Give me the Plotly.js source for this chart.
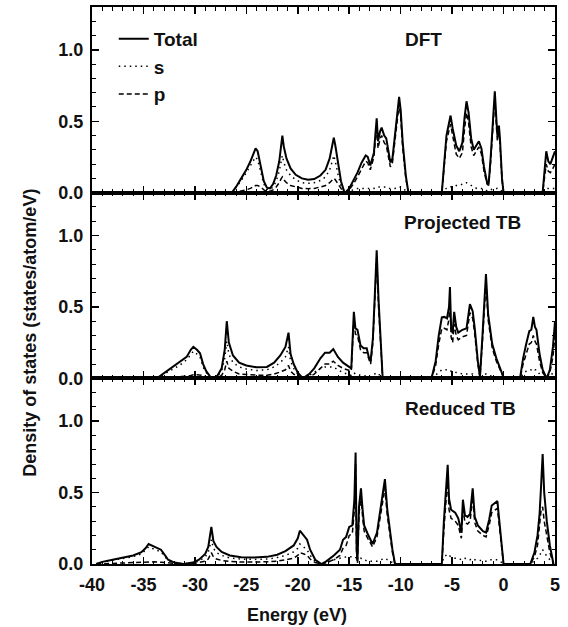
<!DOCTYPE html>
<html>
<head>
<meta charset="utf-8">
<script src="https://cdn.plot.ly/plotly-3.0.1.min.js"></script>
<style>html,body{margin:0;padding:0;background:#fff;}#chart{width:568px;height:627px;}</style>
</head>
<body>
<div id="chart"></div>
<script>
// ---------- DFT panel ----------
const dftE = [-26.4,-26.0,-25.5,-25.0,-24.6,-24.3,-24.1,-23.9,-23.6,-23.3,-23.0,-22.7,-22.4,-22.1,-21.8,-21.6,-21.5,-21.35,-21.1,-20.7,-20.2,-19.6,-19.0,-18.4,-17.8,-17.3,-16.9,-16.65,-16.5,-16.35,-16.1,-15.8,-15.5,
  -15.4,-15.0,-14.6,-14.2,-13.8,-13.4,-13.2,-12.95,-12.6,-12.4,-12.33,-12.2,-12.0,-11.85,-11.6,-11.4,-11.2,-11.0,-10.8,-10.55,-10.3,-10.15,-10.0,-9.8,-9.5,-9.25,
  -6.0,-5.8,-5.55,-5.35,-5.15,-4.95,-4.6,-4.3,-4.0,-3.8,-3.6,-3.4,-3.15,-2.9,-2.6,-2.4,-2.15,-1.9,-1.6,-1.45,-1.25,-1.0,-0.85,-0.7,-0.6,-0.45,-0.35,-0.15,0.0,
  3.8,3.95,4.15,4.35,4.55,4.8,5.0];
const dftTotal = [0,0.04,0.10,0.16,0.22,0.28,0.31,0.29,0.18,0.08,0.035,0.03,0.06,0.12,0.22,0.35,0.40,0.32,0.24,0.17,0.125,0.10,0.09,0.095,0.12,0.16,0.24,0.33,0.385,0.33,0.20,0.08,0.01,
  0,0.03,0.08,0.14,0.21,0.26,0.25,0.19,0.28,0.45,0.52,0.36,0.43,0.455,0.40,0.38,0.30,0.21,0.24,0.40,0.60,0.67,0.58,0.35,0.12,0,
  0,0.20,0.40,0.47,0.54,0.45,0.33,0.29,0.35,0.52,0.64,0.56,0.38,0.30,0.34,0.36,0.31,0.18,0.07,0.06,0.25,0.55,0.71,0.52,0.40,0.47,0.38,0.10,0,
  0,0.15,0.29,0.22,0.20,0.25,0.29];
const dftS = [0,0.035,0.085,0.14,0.19,0.23,0.25,0.23,0.14,0.06,0.025,0.02,0.04,0.08,0.15,0.24,0.26,0.21,0.16,0.12,0.09,0.07,0.065,0.07,0.085,0.11,0.16,0.22,0.26,0.22,0.13,0.05,0.005,
  0,0.01,0.02,0.03,0.03,0.03,0.03,0.03,0.03,0.04,0.04,0.04,0.04,0.04,0.04,0.04,0.03,0.03,0.03,0.03,0.04,0.04,0.04,0.03,0.01,0,
  0,0.02,0.03,0.03,0.04,0.04,0.05,0.05,0.06,0.07,0.07,0.06,0.05,0.04,0.03,0.03,0.03,0.02,0.01,0.01,0.02,0.03,0.03,0.03,0.03,0.02,0.02,0.01,0,
  0,0.02,0.03,0.03,0.03,0.03,0.03];
const dftP = [0,0.005,0.012,0.02,0.03,0.04,0.05,0.05,0.04,0.02,0.01,0.01,0.02,0.04,0.07,0.10,0.11,0.09,0.07,0.05,0.04,0.03,0.028,0.03,0.04,0.05,0.07,0.09,0.10,0.09,0.06,0.03,0.005,
  0,0.02,0.06,0.11,0.17,0.22,0.21,0.16,0.25,0.40,0.47,0.31,0.38,0.40,0.35,0.33,0.26,0.18,0.21,0.36,0.55,0.62,0.53,0.31,0.10,0,
  0,0.17,0.36,0.42,0.48,0.40,0.27,0.24,0.28,0.44,0.56,0.49,0.32,0.26,0.30,0.32,0.27,0.15,0.06,0.05,0.22,0.50,0.66,0.47,0.36,0.43,0.34,0.09,0,
  0,0.10,0.20,0.15,0.14,0.17,0.20];

// ---------- Projected TB panel ----------
const ptbE = [-33.7,-32.5,-31.5,-30.8,-30.4,-30.15,-29.8,-29.5,-29.2,-28.9,-28.5,-28.2,-27.8,-27.4,-27.1,-26.9,-26.7,-26.3,-25.7,-25.0,-24.0,-23.0,-22.3,-21.7,-21.2,-20.9,-20.7,-20.4,-20.0,-19.5,
  -18.9,-18.4,-17.8,-17.35,-16.9,-16.55,-16.1,-15.6,-14.8,-14.55,-14.4,-14.2,-13.9,-13.6,-13.3,-13.1,-12.92,-12.7,-12.5,-12.33,-12.15,-12.0,-11.75,
  -7.0,-6.6,-6.3,-6.0,-5.75,-5.5,-5.3,-5.21,-5.1,-4.95,-4.8,-4.6,-4.4,-4.0,-3.6,-3.4,-3.27,-3.0,-2.8,-2.5,-2.29,-2.05,-1.85,-1.71,-1.5,-1.1,-0.7,-0.3,0.04,
  1.6,1.9,2.2,2.5,2.7,2.89,3.05,3.2,3.5,3.8,4.19,4.5,4.8,5.0];
const ptbTotal = [0,0.06,0.11,0.15,0.20,0.22,0.20,0.175,0.10,0.05,0.01,0,0.02,0.07,0.20,0.40,0.25,0.16,0.11,0.09,0.077,0.08,0.11,0.16,0.22,0.32,0.17,0.10,0.04,0,
  0.03,0.07,0.14,0.18,0.18,0.205,0.15,0.11,0.07,0.466,0.35,0.34,0.23,0.21,0.21,0.15,0.12,0.28,0.60,0.897,0.55,0.31,0,
  0,0.12,0.30,0.427,0.43,0.42,0.50,0.64,0.36,0.315,0.466,0.36,0.32,0.34,0.35,0.44,0.52,0.47,0.35,0.12,0.01,0.30,0.60,0.73,0.45,0.24,0.14,0.06,0,
  0,0.14,0.24,0.33,0.34,0.43,0.36,0.34,0.17,0.06,0,0.06,0.22,0.40];
const ptbS = [0,0.05,0.09,0.13,0.17,0.19,0.17,0.15,0.08,0.04,0.008,0,0.015,0.05,0.14,0.26,0.17,0.11,0.08,0.065,0.055,0.06,0.08,0.11,0.15,0.22,0.12,0.07,0.03,0,
  0.02,0.04,0.07,0.08,0.08,0.08,0.06,0.04,0.02,0.04,0.03,0.03,0.02,0.02,0.02,0.015,0.01,0.02,0.03,0.04,0.03,0.02,0,
  0,0.02,0.04,0.06,0.06,0.06,0.06,0.06,0.05,0.05,0.05,0.04,0.04,0.03,0.03,0.03,0.03,0.03,0.02,0.01,0,0.02,0.03,0.03,0.02,0.015,0.01,0.005,0,
  0,0.03,0.05,0.06,0.06,0.07,0.06,0.06,0.03,0.01,0,0.01,0.04,0.06];
const ptbP = [0,0.005,0.01,0.015,0.02,0.025,0.025,0.025,0.02,0.01,0.002,0,0.005,0.02,0.06,0.12,0.07,0.05,0.03,0.025,0.022,0.022,0.03,0.045,0.06,0.09,0.05,0.03,0.01,0,
  0.01,0.03,0.07,0.10,0.10,0.12,0.09,0.07,0.05,0.42,0.31,0.30,0.20,0.18,0.18,0.13,0.10,0.25,0.55,0.84,0.50,0.28,0,
  0,0.09,0.24,0.35,0.35,0.34,0.42,0.56,0.29,0.25,0.38,0.30,0.27,0.29,0.30,0.38,0.46,0.42,0.31,0.10,0.01,0.26,0.54,0.67,0.41,0.21,0.12,0.05,0,
  0,0.10,0.17,0.24,0.25,0.30,0.26,0.24,0.12,0.04,0,0.04,0.15,0.30];

// ---------- Reduced TB panel ----------
const rtbE = [-39.6,-39.0,-38.0,-37.0,-36.0,-35.2,-34.8,-34.5,-34.0,-33.3,-32.9,-32.6,-32.0,-31.1,-30.2,-29.6,-29.0,-28.7,-28.4,-28.2,-27.9,-27.4,-26.6,-25.5,-24.3,-23.0,-22.0,-21.2,-20.4,-20.0,-19.8,-19.4,-19.1,-18.8,-18.3,-17.7,
  -17.2,-16.5,-15.9,-15.6,-15.3,-15.0,-14.7,-14.5,-14.38,-14.28,-14.2,-14.05,-13.86,-13.7,-13.55,-13.2,-12.73,-12.3,-11.9,-11.53,-11.3,-11.0,-10.8,-10.55,
  -6.0,-5.8,-5.6,-5.43,-5.3,-5.1,-4.7,-4.4,-4.1,-3.95,-3.75,-3.5,-3.25,-3.0,-2.8,-2.5,-2.0,-1.7,-1.4,-1.15,-0.6,-0.35,-0.1,0.0,
  2.6,3.0,3.3,3.5,3.65,3.8,3.95,4.2,4.5,4.85];
const rtbTotal = [0,0.015,0.03,0.045,0.06,0.083,0.11,0.14,0.125,0.10,0.06,0.03,0.01,0,0.01,0.03,0.07,0.12,0.26,0.16,0.12,0.085,0.06,0.048,0.045,0.05,0.065,0.09,0.13,0.18,0.233,0.20,0.17,0.10,0.03,0,
  0.02,0.06,0.10,0.17,0.19,0.26,0.27,0.45,0.78,0.10,0.02,0.40,0.53,0.38,0.27,0.21,0.14,0.22,0.42,0.595,0.38,0.21,0.10,0,
  0,0.30,0.50,0.695,0.46,0.38,0.36,0.32,0.22,0.45,0.34,0.33,0.35,0.53,0.33,0.27,0.23,0.22,0.31,0.41,0.44,0.25,0.05,0,
  0,0.08,0.20,0.35,0.55,0.77,0.50,0.30,0.13,0];
const rtbS = [0,0.013,0.026,0.04,0.052,0.07,0.095,0.12,0.105,0.085,0.05,0.025,0.008,0,0.008,0.02,0.05,0.08,0.17,0.11,0.08,0.06,0.042,0.034,0.032,0.035,0.045,0.06,0.085,0.11,0.14,0.12,0.10,0.06,0.02,0,
  0.01,0.03,0.04,0.05,0.05,0.05,0.05,0.05,0.05,0.03,0.01,0.03,0.04,0.03,0.03,0.02,0.02,0.02,0.03,0.04,0.03,0.02,0.01,0,
  0,0.05,0.06,0.07,0.06,0.05,0.04,0.04,0.03,0.04,0.04,0.03,0.03,0.04,0.03,0.03,0.02,0.02,0.03,0.03,0.03,0.02,0.005,0,
  0,0.02,0.04,0.06,0.08,0.10,0.08,0.06,0.03,0];
const rtbP = [0,0.002,0.004,0.005,0.008,0.01,0.012,0.015,0.015,0.012,0.01,0.005,0.002,0,0.002,0.01,0.02,0.035,0.08,0.05,0.035,0.025,0.018,0.014,0.013,0.015,0.02,0.028,0.04,0.06,0.08,0.07,0.06,0.035,0.01,0,
  0.01,0.03,0.06,0.11,0.13,0.20,0.21,0.38,0.70,0.07,0.01,0.35,0.47,0.33,0.23,0.18,0.12,0.19,0.37,0.53,0.34,0.18,0.08,0,
  0,0.24,0.42,0.60,0.38,0.32,0.30,0.27,0.18,0.39,0.29,0.28,0.30,0.47,0.29,0.23,0.20,0.19,0.27,0.36,0.39,0.22,0.04,0,
  0,0.05,0.13,0.25,0.38,0.40,0.30,0.20,0.08,0];

const legendNames = ['Total', 's', 'p'];
const panelLabels = ['DFT', 'Projected TB', 'Reduced TB'];
const yTickVals = [0, 0.5, 1.0];
const yTickText = ['0.0', '0.5', '1.0'];
const xTickVals = [-40, -35, -30, -25, -20, -15, -10, -5, 0, 5];
const xTickText = ['-40', '-35', '-30', '-25', '-20', '-15', '-10', '-5', '0', '5'];

const FONT = 'Liberation Sans, Arial, Helvetica, sans-serif';
const panels = [
  {E: dftE, T: dftTotal, S: dftS, P: dftP},
  {E: ptbE, T: ptbTotal, S: ptbS, P: ptbP},
  {E: rtbE, T: rtbTotal, S: rtbS, P: rtbP}
];
const styles = [
  {dash: 'solid', width: 2},
  {dash: '1.5px,4px', width: 1.5},
  {dash: '5px,3px', width: 1.5}
];

const traces = [];
panels.forEach((pn, i) => {
  const xa = i === 0 ? 'x' : 'x' + (i + 1);
  const ya = i === 0 ? 'y' : 'y' + (i + 1);
  [pn.T, pn.S, pn.P].forEach((vals, j) => {
    traces.push({
      x: pn.E, y: vals, xaxis: xa, yaxis: ya,
      type: 'scatter', mode: 'lines',
      name: legendNames[j],
      legendgroup: 'g' + j,
      showlegend: i === 0,
      line: {color: '#000', dash: styles[j].dash, width: styles[j].width},
      hoverinfo: 'skip'
    });
  });
});

const tickFont = {family: FONT, size: 18, color: '#111', weight: 'bold'};
function yAxis(domain, anchor) {
  return {
    domain: domain, anchor: anchor, range: [0, 1.3],
    tickvals: yTickVals, ticktext: yTickText,
    ticks: 'inside', ticklen: 7, tickwidth: 1.5, tickcolor: '#000',
    minor: {dtick: 0.1, tick0: 0, ticks: 'inside', ticklen: 3.5, tickwidth: 1, tickcolor: '#000'},
    showline: true, linewidth: 2, linecolor: '#000', mirror: 'ticks',
    showgrid: false, zeroline: false, tickfont: tickFont, ticklabelstandoff: 3, fixedrange: true
  };
}
function xAxis(anchor, showLabels) {
  return {
    anchor: anchor, range: [-40, 5], domain: [0, 1],
    tickvals: xTickVals, ticktext: xTickText,
    ticks: 'inside', ticklen: 7, tickwidth: 1.5, tickcolor: '#000',
    minor: {dtick: 1, tick0: 0, ticks: 'inside', ticklen: 3.5, tickwidth: 1, tickcolor: '#000'},
    showline: true, linewidth: 2, linecolor: '#000', mirror: 'ticks',
    showgrid: false, zeroline: false, showticklabels: showLabels,
    tickfont: tickFont, ticklabelstandoff: 3, fixedrange: true
  };
}

const labelFont = {family: FONT, size: 19, color: '#111', weight: 'bold'};
const annotations = [
  {text: panelLabels[0], xref: 'x', yref: 'y', x: -9.8, y: 1.075, xanchor: 'left', yanchor: 'middle', showarrow: false, font: labelFont},
  {text: panelLabels[1], xref: 'x2', yref: 'y2', x: -9.9, y: 1.09, xanchor: 'left', yanchor: 'middle', showarrow: false, font: labelFont},
  {text: panelLabels[2], xref: 'x3', yref: 'y3', x: -9.8, y: 1.09, xanchor: 'left', yanchor: 'middle', showarrow: false, font: labelFont},
  {text: 'Energy (eV)', xref: 'paper', yref: 'paper', x: 0.443, y: -0.092, xanchor: 'center', yanchor: 'middle', showarrow: false, font: {family: FONT, size: 18, color: '#111', weight: 'bold'}},
  {text: 'Density of states (states/atom/eV)', xref: 'paper', yref: 'paper', x: -0.133, y: 0.416, xanchor: 'center', yanchor: 'middle', textangle: -90, showarrow: false, font: {family: FONT, size: 18, color: '#111', weight: 'bold'}}
];

const layout = {
  width: 568, height: 627,
  margin: {l: 92, r: 13, t: 7, b: 63},
  paper_bgcolor: '#fff', plot_bgcolor: '#fff',
  showlegend: true,
  legend: {x: 0.047, y: 0.977, xanchor: 'left', yanchor: 'top', bgcolor: 'rgba(0,0,0,0)', borderwidth: 0,
           font: {family: FONT, size: 19, color: '#111', weight: 'bold'}, tracegroupgap: 0, traceorder: 'normal'},
  xaxis: xAxis('y', false),
  xaxis2: xAxis('y2', false),
  xaxis3: xAxis('y3', true),
  yaxis: yAxis([2/3, 1], 'x'),
  yaxis2: yAxis([1/3, 2/3], 'x2'),
  yaxis3: yAxis([0, 1/3], 'x3'),
  annotations: annotations
};

Plotly.newPlot('chart', traces, layout, {displayModeBar: false, staticPlot: true});
</script>
</body>
</html>
